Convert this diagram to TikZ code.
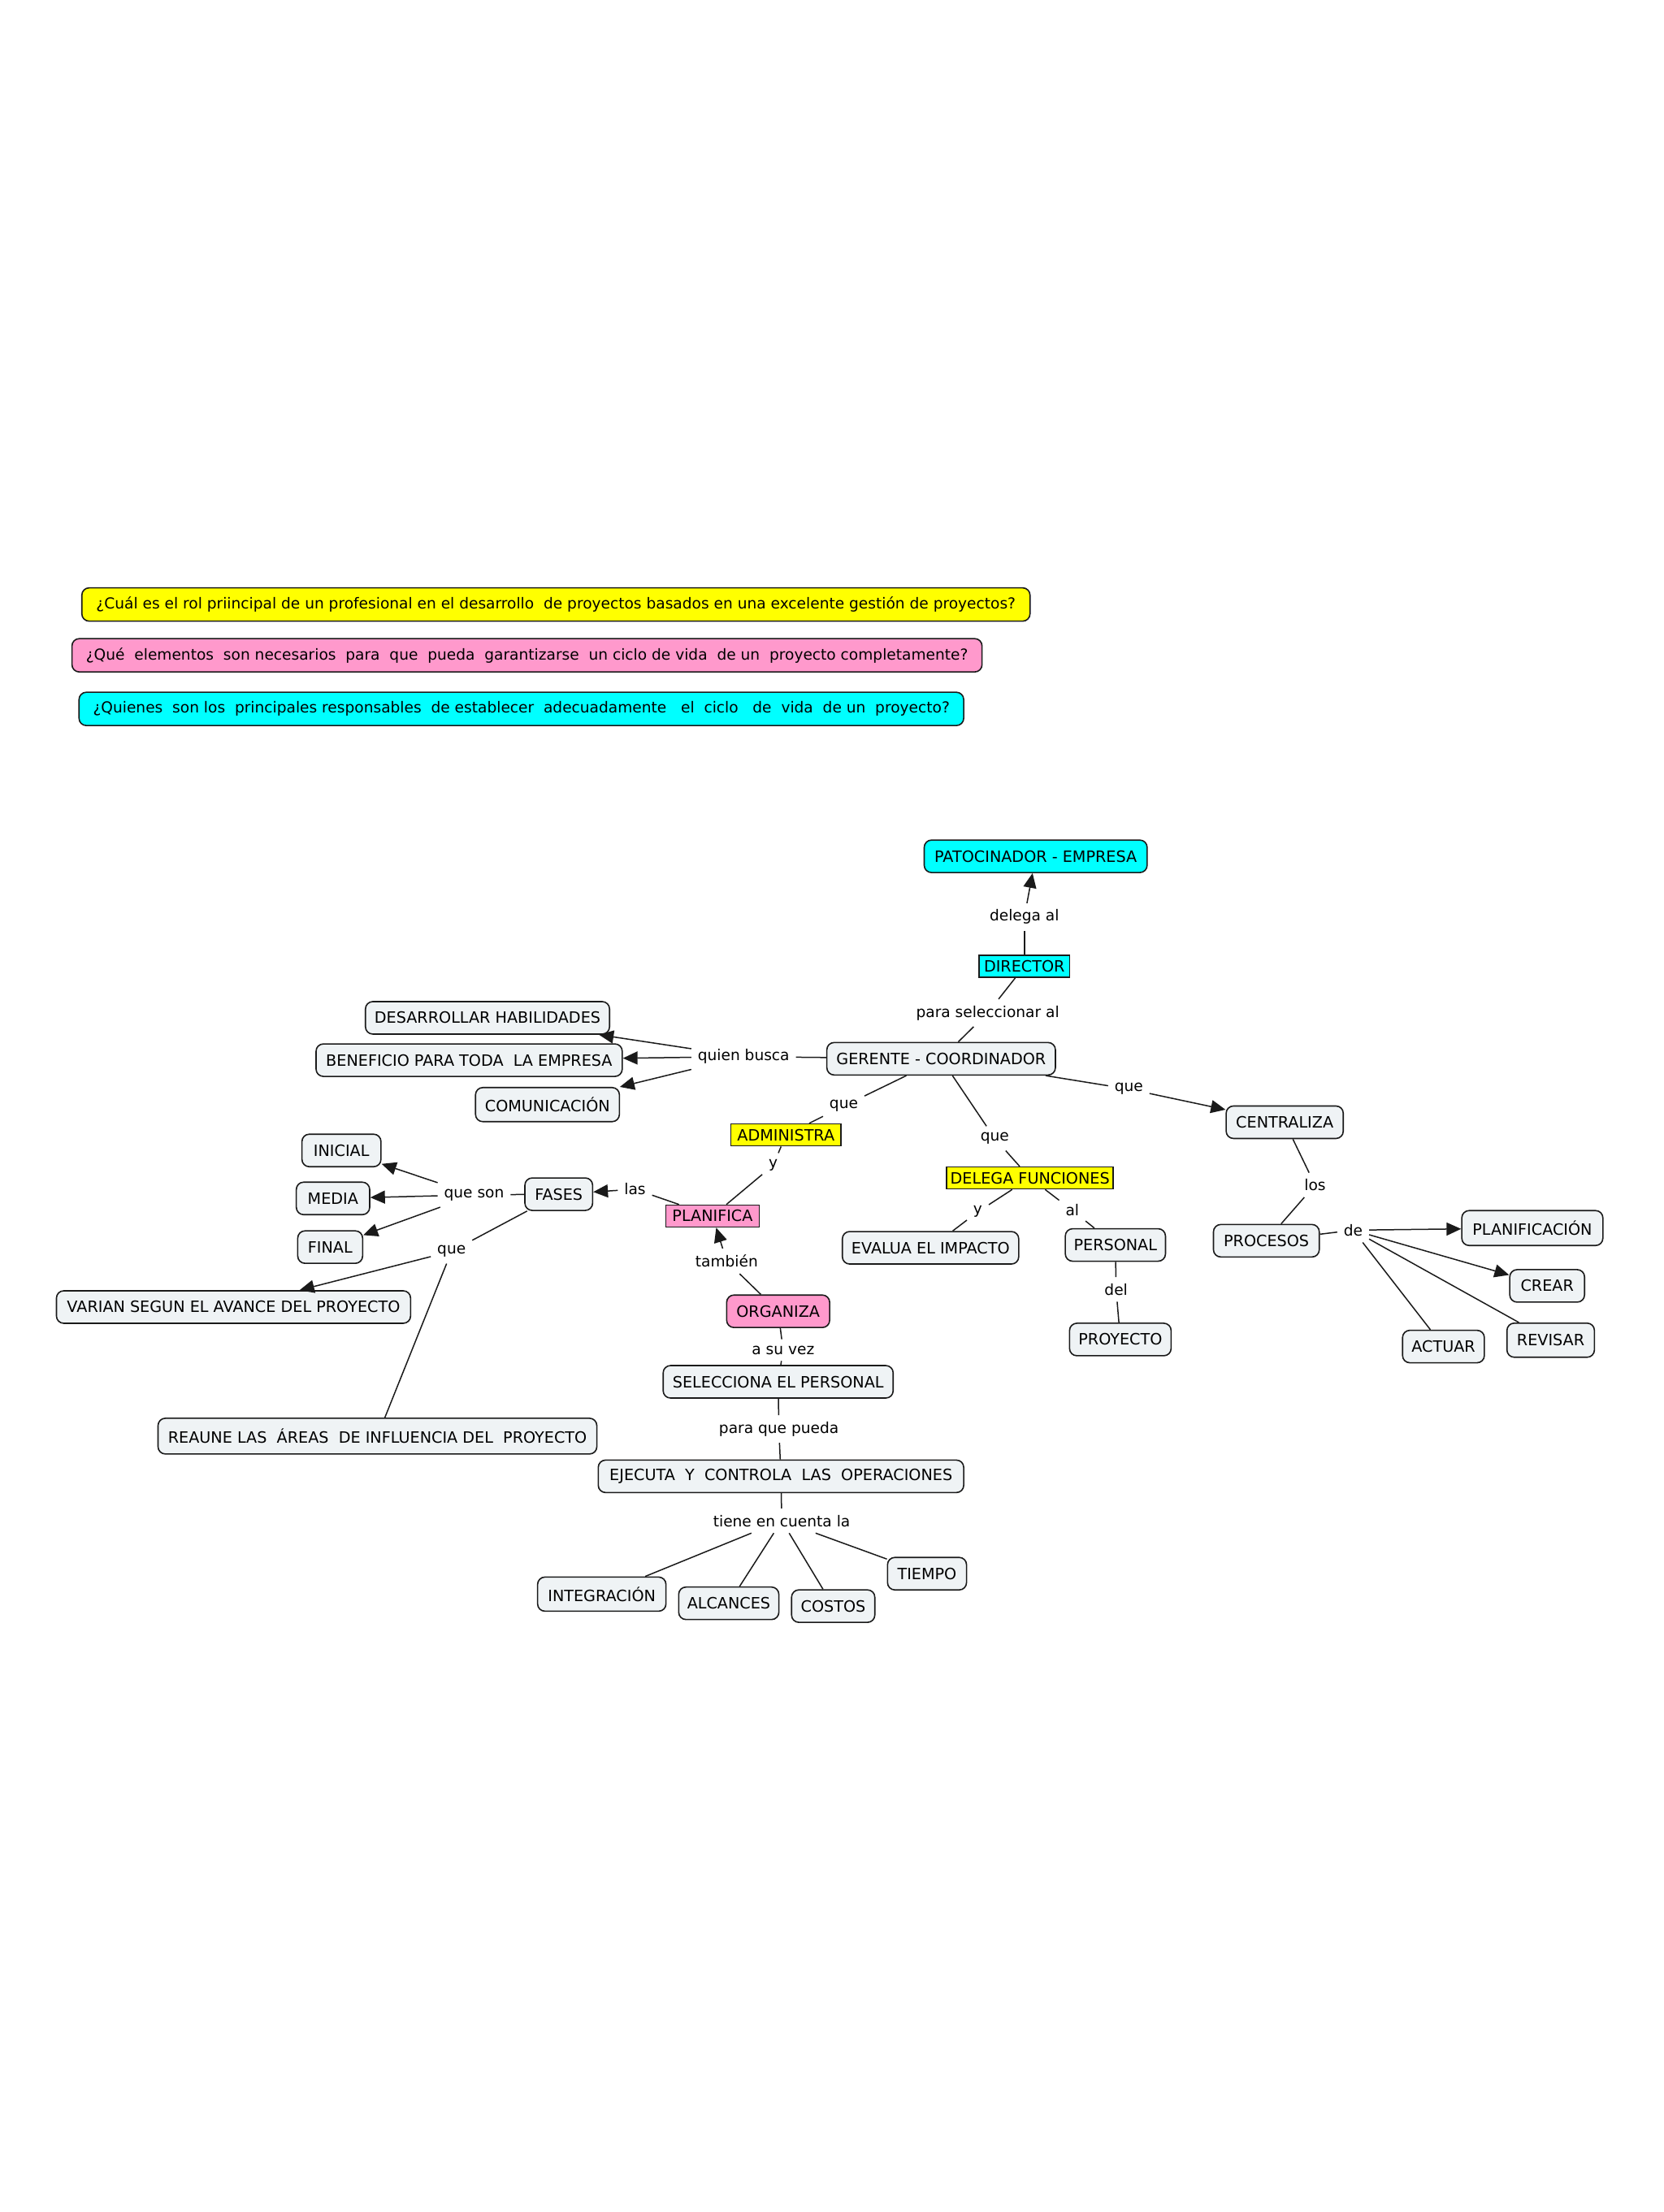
\documentclass[tikz,border=0pt]{standalone}
\usepackage{fontspec}
\setmainfont{DejaVu Sans}
\usetikzlibrary{arrows.meta}
\definecolor{cy}{HTML}{00FFFF}
\definecolor{yl}{HTML}{FFFF00}
\definecolor{pk}{HTML}{FF99CC}
\definecolor{cf}{HTML}{EFF3F5}
\definecolor{ln}{HTML}{1A1A1A}
\begin{document}
\begin{tikzpicture}[x=0.8686pt,y=-0.8686pt,
  font=\fontsize{9.3}{11}\selectfont,
  concept/.style={draw=ln, line width=0.8pt, rounded corners=4.5pt, fill=cf, minimum height=20pt, inner sep=2pt, font=\fontsize{9.6}{11}\selectfont},
  quest/.style={concept, minimum height=20.5pt, font=\fontsize{9.3}{11}\selectfont},
  rbox/.style={draw=ln, line width=0.8pt, minimum height=13.5pt, inner sep=1.5pt, font=\fontsize{9.6}{11}\selectfont},
  link/.style={inner sep=3.8pt},
  conn/.style={line width=0.75pt, draw=ln},
  arr/.style={conn, -{Triangle[length=9pt,width=8pt]}},
  bw/.style={minimum width=#1*0.8686pt}
]
\useasboundingbox (0,0) rectangle (1179,1568);

% questions
\node[quest, fill=yl, bw=672] (q1) at (394,428.5) {¿Cuál es el rol priincipal de un profesional en el desarrollo\ \ de proyectos basados en una excelente gestión de proyectos?};
\node[quest, fill=pk, bw=645] (q2) at (373.5,464.5) {¿Qué\ \ elementos\ \ son necesarios\ \ para\ \ que\ \ pueda\ \ garantizarse\ \ un ciclo de vida\ \ de un\ \ proyecto completamente?};
\node[quest, fill=cy, bw=627] (q3) at (369.5,502.5) {¿Quienes\ \ son los\ \ principales responsables\ \ de establecer\ \ adecuadamente\ \ \ el\ \ ciclo\ \ \ de\ \ vida\ \ de un\ \ proyecto?};

% concepts
\node[concept, fill=cy, bw=158] (pat) at (734,607) {PATOCINADOR - EMPRESA};
\node[rbox, fill=cy, bw=64] (dir) at (726,685) {DIRECTOR};
\node[concept, bw=162] (ger) at (667,750.5) {GERENTE - COORDINADOR};
\node[concept, bw=173] (des) at (345.5,721.5) {DESARROLLAR HABILIDADES};
\node[concept, bw=217] (ben) at (332.5,751.5) {BENEFICIO PARA TODA\ \ LA EMPRESA};
\node[concept, bw=102, minimum height=21pt] (com) at (388,783) {COMUNICACIÓN};
\node[rbox, fill=yl, bw=78] (adm) at (557,804.5) {ADMINISTRA};
\node[rbox, fill=pk, bw=66] (pla) at (505,862) {PLANIFICA};
\node[concept, bw=48] (fas) at (396,846.5) {FASES};
\node[concept, bw=56] (ini) at (242,815.5) {INICIAL};
\node[concept, bw=52] (med) at (236,849.5) {MEDIA};
\node[concept, bw=46] (fin) at (234,884) {FINAL};
\node[concept, bw=251] (var) at (165.5,926.5) {VARIAN SEGUN EL AVANCE DEL PROYECTO};
\node[concept, bw=311, minimum height=22pt] (rea) at (267.5,1018) {REAUNE LAS\ \ ÁREAS\ \ DE INFLUENCIA DEL\ \ PROYECTO};
\node[concept, fill=pk, bw=73] (org) at (551.5,929.5) {ORGANIZA};
\node[concept, bw=163] (sel) at (551.5,979.5) {SELECCIONA EL PERSONAL};
\node[concept, bw=259] (eje) at (553.5,1046.5) {EJECUTA\ \ Y\ \ CONTROLA\ \ LAS\ \ OPERACIONES};
\node[concept, bw=91, minimum height=21pt] (int) at (426.5,1130) {INTEGRACIÓN};
\node[concept, bw=71] (alc) at (516.5,1136.5) {ALCANCES};
\node[concept, bw=59] (cos) at (590.5,1138.5) {COSTOS};
\node[concept, bw=56] (tie) at (657,1115.5) {TIEMPO};
\node[rbox, fill=yl, bw=118] (del) at (730,835) {DELEGA FUNCIONES};
\node[concept, bw=125] (eva) at (659.5,884.5) {EVALUA EL IMPACTO};
\node[concept, bw=71] (per) at (790.5,882.5) {PERSONAL};
\node[concept, bw=72] (pro) at (794,949.5) {PROYECTO};
\node[concept, bw=83] (cen) at (910.5,795.5) {CENTRALIZA};
\node[concept, bw=75] (prc) at (897.5,879.5) {PROCESOS};
\node[concept, bw=100, minimum height=21.5pt] (plf) at (1086,870.5) {PLANIFICACIÓN};
\node[concept, bw=53] (cre) at (1096.5,911.5) {CREAR};
\node[concept, bw=62, minimum height=21pt] (rev) at (1099,950) {REVISAR};
\node[concept, bw=58] (act) at (1023,954.5) {ACTUAR};

% linking phrases
\node[link] (lDel) at (726,650) {delega al};
\node[link] (lPar) at (700,718) {para seleccionar al};
\node[link] (lQui) at (527,749) {quien busca};
\node[link] (lQa) at (598,784) {que};
\node[link] (lYa) at (548,826) {y};
\node[link] (lLas) at (450,843) {las};
\node[link] (lQso) at (336,847) {que son};
\node[link] (lQb) at (320,887) {que};
\node[link] (lTam) at (515,894) {también};
\node[link] (lAsu) at (555,957) {a su vez};
\node[link] (lPqp) at (552,1013) {para que pueda};
\node[link] (lTie) at (554,1078) {tiene en cuenta la};
\node[link] (lQc) at (705,807) {que};
\node[link] (lYb) at (693,859) {y};
\node[link] (lAl) at (760,858) {al};
\node[link] (lDl) at (791,914) {del};
\node[link] (lQd) at (800,772) {que};
\node[link] (lLos) at (932,840) {los};
\node[link] (lDe) at (959,872) {de};

% connectors
\draw[conn] (dir) -- (lDel);
\draw[arr] (lDel) -- (pat);
\draw[conn] (dir) -- (lPar);
\draw[conn] (lPar) -- (ger);
\draw[conn] (ger) -- (lQui);
\draw[arr] (lQui) -- (des);
\draw[arr] (lQui) -- (ben);
\draw[arr] (lQui) -- (com);
\draw[conn] (ger) -- (lQa);
\draw[conn] (lQa) -- (adm);
\draw[conn] (adm) -- (lYa);
\draw[conn] (lYa) -- (pla);
\draw[conn] (pla) -- (lLas);
\draw[arr] (lLas) -- (fas);
\draw[conn] (fas) -- (lQso);
\draw[arr] (lQso) -- (ini);
\draw[arr] (lQso) -- (med);
\draw[arr] (lQso) -- (fin);
\draw[conn] (fas) -- (lQb);
\draw[arr] (lQb) -- (var);
\draw[conn] (lQb) -- (rea);
\draw[conn] (org) -- (lTam);
\draw[arr] (lTam) -- (pla);
\draw[conn] (org) -- (lAsu);
\draw[conn] (lAsu) -- (sel);
\draw[conn] (sel) -- (lPqp);
\draw[conn] (lPqp) -- (eje);
\draw[conn] (eje) -- (lTie);
\draw[conn] (lTie) -- (int);
\draw[conn] (lTie) -- (alc);
\draw[conn] (lTie) -- (cos);
\draw[conn] (lTie) -- (tie);
\draw[conn] (ger) -- (lQc);
\draw[conn] (lQc) -- (del);
\draw[conn] (del) -- (lYb);
\draw[conn] (lYb) -- (eva);
\draw[conn] (del) -- (lAl);
\draw[conn] (lAl) -- (per);
\draw[conn] (per) -- (lDl);
\draw[conn] (lDl) -- (pro);
\draw[conn] (ger) -- (lQd);
\draw[arr] (lQd) -- (cen);
\draw[conn] (cen) -- (lLos);
\draw[conn] (lLos) -- (prc);
\draw[conn] (prc) -- (lDe);
\draw[arr] (lDe) -- (plf);
\draw[arr] (lDe) -- (cre);
\draw[conn] (lDe) -- (rev);
\draw[conn] (lDe) -- (act);
\end{tikzpicture}
\end{document}
